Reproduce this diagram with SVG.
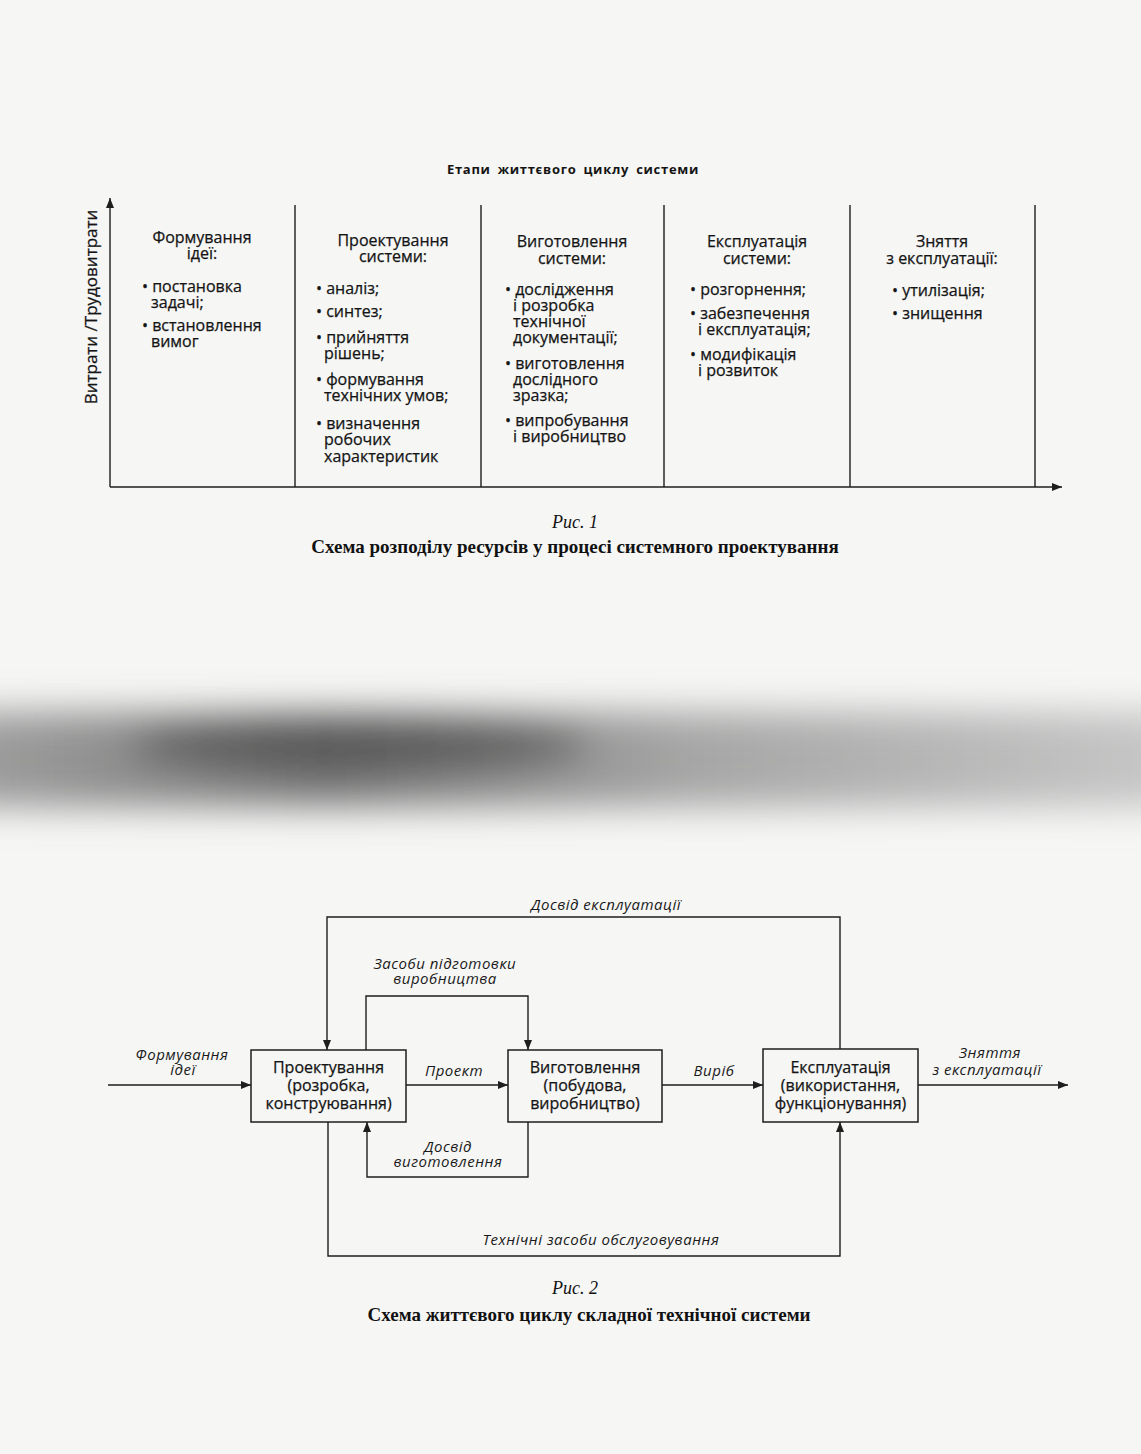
<svg xmlns="http://www.w3.org/2000/svg" width="1141" height="1454" viewBox="0 0 1141 1454">
<style>
.ln{stroke:#1e1e1e;stroke-width:1.4;fill:none}
.t{font-family:"Open Sans","Liberation Sans",sans-serif;font-size:16px;fill:#141414;stroke:#141414;stroke-width:0.25}
.c{text-anchor:middle}
.it{font-family:"Open Sans","Liberation Sans",sans-serif;font-size:15px;font-style:italic;letter-spacing:0.5px;fill:#1a1a1a}
.cap{font-family:"Liberation Serif",serif;fill:#111}
.box{fill:none;stroke:#1e1e1e;stroke-width:1.5}
</style>
<defs>
<marker id="ah" viewBox="0 0 10 8" refX="10" refY="4" markerWidth="10" markerHeight="8" markerUnits="userSpaceOnUse" orient="auto">
<path d="M0,0 L10,4 L0,8 z" fill="#1e1e1e"/>
</marker>
<filter id="bl" x="-30%" y="-200%" width="160%" height="500%"><feGaussianBlur stdDeviation="18"/></filter>
<linearGradient id="band" x1="0" y1="0" x2="1" y2="0">
<stop offset="0" stop-color="#8a8a8a"/>
<stop offset="0.3" stop-color="#5a5a5a"/>
<stop offset="0.6" stop-color="#929292"/>
<stop offset="1" stop-color="#bcbcbc"/>
</linearGradient>
</defs>
<rect width="1141" height="1454" fill="#f6f6f5"/>
<!-- scan shadow band -->
<g filter="url(#bl)">
<rect x="-40" y="712" width="1220" height="95" fill="url(#band)" opacity="0.8"/>
<ellipse cx="360" cy="745" rx="230" ry="24" fill="#444" opacity="0.65"/>
</g>

<!-- Figure 1 -->
<g id="fig1">
<text class="t c" x="573" y="174" style="font-size:13px;font-weight:bold;letter-spacing:0.7px;word-spacing:3px;stroke:none">Етапи життєвого циклу системи</text>
<g id="axes">
<line class="ln" x1="110" y1="487" x2="110" y2="198" marker-end="url(#ah)"/>
<line class="ln" x1="110" y1="487" x2="1062" y2="487" marker-end="url(#ah)"/>
<text class="t c" transform="translate(97,307) rotate(-90)" style="font-size:17px">Витрати /Трудовитрати</text>
</g>
<g id="dividers">
<line class="ln" x1="295" y1="205" x2="295" y2="487"/>
<line class="ln" x1="481" y1="205" x2="481" y2="487"/>
<line class="ln" x1="664" y1="205" x2="664" y2="487"/>
<line class="ln" x1="850" y1="205" x2="850" y2="487"/>
<line class="ln" x1="1035" y1="205" x2="1035" y2="487"/>
</g>
<g id="col1">
<text class="t c" x="202" y="243">Формування</text>
<text class="t c" x="202" y="259">ідеї:</text>
<text class="t" x="142" y="292">• постановка</text>
<text class="t" x="151" y="308">задачі;</text>
<text class="t" x="142" y="331">• встановлення</text>
<text class="t" x="151" y="347">вимог</text>
</g>
<g id="col2">
<text class="t c" x="393" y="246">Проектування</text>
<text class="t c" x="393" y="262">системи:</text>
<text class="t" x="316" y="294">• аналіз;</text>
<text class="t" x="316" y="317">• синтез;</text>
<text class="t" x="316" y="343">• прийняття</text>
<text class="t" x="324" y="359">рішень;</text>
<text class="t" x="316" y="385">• формування</text>
<text class="t" x="324" y="401">технічних умов;</text>
<text class="t" x="316" y="429">• визначення</text>
<text class="t" x="324" y="445">робочих</text>
<text class="t" x="324" y="462">характеристик</text>
</g>
<g id="col3">
<text class="t c" x="572" y="247">Виготовлення</text>
<text class="t c" x="572" y="264">системи:</text>
<text class="t" x="505" y="295">• дослідження</text>
<text class="t" x="513" y="311">і розробка</text>
<text class="t" x="513" y="327">технічної</text>
<text class="t" x="513" y="343">документації;</text>
<text class="t" x="505" y="369">• виготовлення</text>
<text class="t" x="513" y="385">дослідного</text>
<text class="t" x="513" y="401">зразка;</text>
<text class="t" x="505" y="426">• випробування</text>
<text class="t" x="513" y="442">і виробництво</text>
</g>
<g id="col4">
<text class="t c" x="757" y="247">Експлуатація</text>
<text class="t c" x="757" y="264">системи:</text>
<text class="t" x="690" y="295">• розгорнення;</text>
<text class="t" x="690" y="319">• забезпечення</text>
<text class="t" x="698" y="335">і експлуатація;</text>
<text class="t" x="690" y="360">• модифікація</text>
<text class="t" x="698" y="376">і розвиток</text>
</g>
<g id="col5">
<text class="t c" x="942" y="247">Зняття</text>
<text class="t c" x="942" y="264">з експлуатації:</text>
<text class="t" x="892" y="296">• утилізація;</text>
<text class="t" x="892" y="319">• знищення</text>
</g>
<text class="cap c" x="575" y="528" style="font-size:18px;font-style:italic">Рис. 1</text>
<text class="cap c" x="575" y="553" style="font-size:19px;font-weight:bold">Схема розподілу ресурсів у процесі системного проектування</text>
</g>

<!-- Figure 2 -->
<g id="n1"><rect class="box" x="251" y="1050" width="155" height="72"/>
<text class="t c" x="328.5" y="1073">Проектування</text>
<text class="t c" x="328.5" y="1091">(розробка,</text>
<text class="t c" x="328.5" y="1109">конструювання)</text></g>
<g id="n2"><rect class="box" x="508" y="1050" width="154" height="72"/>
<text class="t c" x="585" y="1073">Виготовлення</text>
<text class="t c" x="585" y="1091">(побудова,</text>
<text class="t c" x="585" y="1109">виробництво)</text></g>
<g id="n3"><rect class="box" x="763" y="1049" width="155" height="73"/>
<text class="t c" x="840.5" y="1073">Експлуатація</text>
<text class="t c" x="840.5" y="1091">(використання,</text>
<text class="t c" x="840.5" y="1109">функціонування)</text></g>

<g id="connectors">
<line class="ln" x1="108" y1="1085" x2="251" y2="1085" marker-end="url(#ah)"/>
<line class="ln" x1="406" y1="1085" x2="508" y2="1085" marker-end="url(#ah)"/>
<line class="ln" x1="662" y1="1085" x2="763" y2="1085" marker-end="url(#ah)"/>
<line class="ln" x1="918" y1="1085" x2="1068" y2="1085" marker-end="url(#ah)"/>
<polyline class="ln" points="840,1049 840,917 327,917 327,1050" marker-end="url(#ah)"/>
<polyline class="ln" points="366,1050 366,996 528,996 528,1050" marker-end="url(#ah)"/>
<polyline class="ln" points="528,1122 528,1177 367,1177 367,1122" marker-end="url(#ah)"/>
<polyline class="ln" points="328,1122 328,1256 840,1256 840,1122" marker-end="url(#ah)"/>
</g>
<g id="labels">
<text class="it c" x="182" y="1060">Формування</text>
<text class="it c" x="183" y="1075">ідеї</text>
<text class="it c" x="454" y="1076">Проект</text>
<text class="it c" x="714" y="1076">Виріб</text>
<text class="it c" x="990" y="1058">Зняття</text>
<text class="it c" x="987" y="1075">з експлуатації</text>
<text class="it c" x="606" y="910">Досвід експлуатації</text>
<text class="it c" x="445" y="969">Засоби підготовки</text>
<text class="it c" x="445" y="984">виробництва</text>
<text class="it c" x="448" y="1152">Досвід</text>
<text class="it c" x="448" y="1167">виготовлення</text>
<text class="it c" x="601" y="1245">Технічні засоби обслуговування</text>
</g>
<text class="cap c" x="575" y="1294" style="font-size:18px;font-style:italic">Рис. 2</text>
<text class="cap c" x="589" y="1321" style="font-size:19px;font-weight:bold">Схема життєвого циклу складної технічної системи</text>
</svg>
